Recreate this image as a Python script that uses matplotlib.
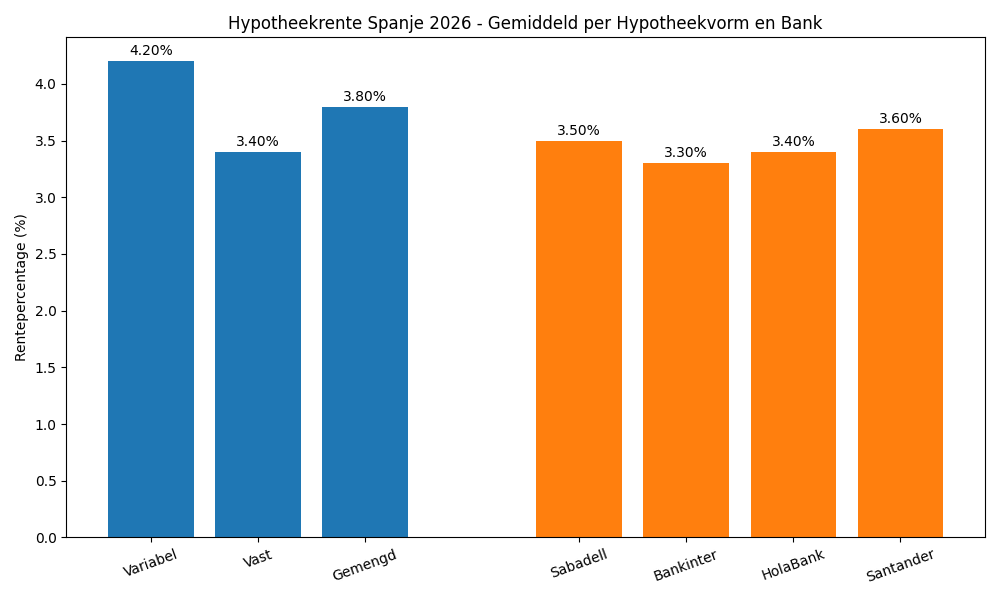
import matplotlib.pyplot as plt

# hypotheekvormen
types = ["Variabel", "Vast", "Gemengd"]
type_rates = [4.20, 3.40, 3.80]

# banken
banks = ["Sabadell", "Bankinter", "HolaBank", "Santander"]
bank_rates = [3.50, 3.30, 3.40, 3.60]


def main():
    x_types = list(range(len(types)))
    x_banks = [len(types) + 1 + i for i in range(len(banks))]

    fig, ax = plt.subplots(figsize=(10, 6))

    b1 = ax.bar(x_types, type_rates, color="#1f77b4")
    b2 = ax.bar(x_banks, bank_rates, color="#ff7f0e")

    for bars in (b1, b2):
        for bar in bars:
            h = bar.get_height()
            ax.annotate(
                f"{h:.2f}%",
                (bar.get_x() + bar.get_width() / 2, h),
                xytext=(0, 2),
                textcoords="offset points",
                ha="center",
                va="bottom",
            )

    ax.set_xticks(x_types + x_banks)
    ax.set_xticklabels(types + banks, rotation=20)
    ax.set_ylabel("Rentepercentage (%)")
    ax.set_title("Hypotheekrente Spanje 2026 - Gemiddeld per Hypotheekvorm en Bank")

    plt.tight_layout()
    plt.savefig("out.png", dpi=100)
    plt.close()


if __name__ == "__main__":
    main()
